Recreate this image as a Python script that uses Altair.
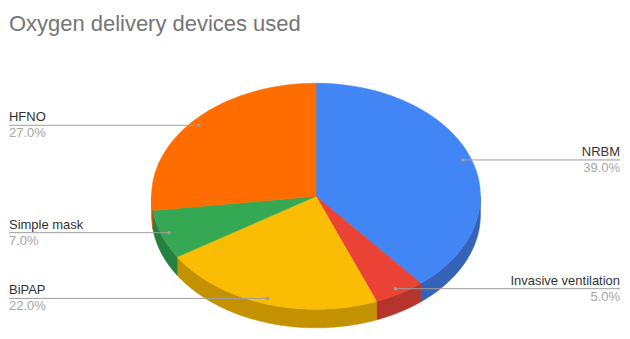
import altair as alt
import pandas as pd

# ---- data ----
categories = ["NRBM", "Invasive ventilation", "BiPAP", "Simple mask", "HFNO"]
values = [39.0, 5.0, 22.0, 7.0, 27.0]

# ---- styles ----
top_colors = ["#4285F4", "#EA4335", "#FBBC04", "#34A853", "#FF6D01"]
side_colors = ["#3463b8", "#b5342b", "#c49200", "#25813f", "#c65600"]
TITLE = "Oxygen delivery devices used"
FONT = "Liberation Sans, Arial, sans-serif"

# ---- layout (reference pixel space) ----
CX, CY, RX, RY, DEPTH = 318, 201, 166, 116, 19
N = 72
LABEL_R = 0.95
LEFT_X, RIGHT_X = 8, 625

W, H = 614, 323
xs = alt.Scale(domain=[8, 627], nice=False, zero=False)
ys = alt.Scale(domain=[8, 339], nice=False, zero=False, reverse=True)

df = pd.DataFrame({"category": categories, "value": values,
                   "idx": list(range(len(categories)))})

base = (
    alt.Chart(df)
    .transform_joinaggregate(total="sum(value)")
    .transform_window(cum="sum(value)", sort=[alt.SortField("idx")], frame=[None, 0])
    .transform_calculate(a0="2*PI*(datum.cum - datum.value)/datum.total")
    .transform_calculate(a1="2*PI*datum.cum/datum.total")
)

top_scale = alt.Scale(domain=categories, range=top_colors)
side_scale = alt.Scale(domain=categories, range=side_colors)

# side walls (front half only)
side = (
    base.transform_calculate(s0="max(datum.a0, PI/2)")
    .transform_calculate(s1="min(datum.a1, 3*PI/2)")
    .transform_filter("datum.s1 > datum.s0")
    .transform_calculate(pts=f"sequence(0, {2 * N + 2})")
    .transform_flatten(["pts"], as_=["k"])
    .transform_calculate(
        ang=f"datum.k <= {N} ? datum.s0 + (datum.s1 - datum.s0)*datum.k/{N} : "
            f"datum.s1 - (datum.s1 - datum.s0)*(datum.k - {N} - 1)/{N}")
    .transform_calculate(px=f"{CX} + {RX}*sin(datum.ang)")
    .transform_calculate(
        py=f"{CY} - {RY}*cos(datum.ang) + (datum.k <= {N} ? 0 : {DEPTH})")
    .mark_line(interpolate="linear-closed", strokeWidth=0.6)
    .encode(
        x=alt.X("px:Q", scale=xs, axis=None),
        y=alt.Y("py:Q", scale=ys, axis=None),
        order="k:Q",
        detail="category:N",
        fill=alt.Fill("category:N", scale=side_scale, legend=None),
        stroke=alt.Stroke("category:N", scale=side_scale, legend=None),
    )
)

# top surface
top = (
    base.transform_calculate(pts=f"sequence(0, {N + 2})")
    .transform_flatten(["pts"], as_=["k"])
    .transform_calculate(ang=f"datum.a0 + (datum.a1 - datum.a0)*(datum.k - 1)/{N}")
    .transform_calculate(px=f"datum.k == 0 ? {CX} : {CX} + {RX}*sin(datum.ang)")
    .transform_calculate(py=f"datum.k == 0 ? {CY} : {CY} - {RY}*cos(datum.ang)")
    .mark_line(interpolate="linear-closed", strokeWidth=0.6)
    .encode(
        x=alt.X("px:Q", scale=xs, axis=None),
        y=alt.Y("py:Q", scale=ys, axis=None),
        order="k:Q",
        detail="category:N",
        fill=alt.Fill("category:N", scale=top_scale, legend=None),
        stroke=alt.Stroke("category:N", scale=top_scale, legend=None),
    )
)

lab = (
    base.transform_calculate(mid="(datum.a0 + datum.a1)/2")
    .transform_calculate(dx=f"{CX} + {LABEL_R * RX}*sin(datum.mid)")
    .transform_calculate(dy=f"{CY} - {LABEL_R * RY}*cos(datum.mid)")
    .transform_calculate(right="sin(datum.mid) > 0")
    .transform_calculate(endx=f"datum.right ? {RIGHT_X} : {LEFT_X}")
    .transform_calculate(pct="format(datum.value/datum.total, '.1%')")
)

rules = lab.mark_rule(color="#9e9e9e", strokeWidth=1).encode(
    x=alt.X("dx:Q", scale=xs, axis=None),
    x2="endx:Q",
    y=alt.Y("dy:Q", scale=ys, axis=None),
)
dots = lab.mark_circle(size=12, color="#a0a0a0", opacity=1).encode(
    x=alt.X("dx:Q", scale=xs, axis=None),
    y=alt.Y("dy:Q", scale=ys, axis=None),
)


def texts(is_right):
    flt = "datum.right" if is_right else "!datum.right"
    al = "right" if is_right else "left"
    name = lab.transform_filter(flt).mark_text(
        align=al, baseline="alphabetic", dy=-4, fontSize=13, font=FONT, color="#333333"
    ).encode(
        x=alt.X("endx:Q", scale=xs, axis=None),
        y=alt.Y("dy:Q", scale=ys, axis=None),
        text="category:N",
    )
    pct = lab.transform_filter(flt).mark_text(
        align=al, baseline="alphabetic", dy=12, fontSize=13, font=FONT, color="#a6a6a6"
    ).encode(
        x=alt.X("endx:Q", scale=xs, axis=None),
        y=alt.Y("dy:Q", scale=ys, axis=None),
        text="pct:N",
    )
    return name + pct


title = alt.Chart(pd.DataFrame({"t": [TITLE]})).mark_text(
    align="left", baseline="alphabetic", fontSize=22, font=FONT, color="#757575"
).encode(x=alt.value(0), y=alt.value(23), text="t:N")

chart = (
    alt.layer(side, top, rules, dots, texts(True), texts(False), title)
    .resolve_scale(fill="independent", stroke="independent")
    .properties(width=W, height=H, padding=0, background="white")
    .configure_view(stroke=None)
)

chart.save("out.html", embed_options={"renderer": "svg", "actions": False})
